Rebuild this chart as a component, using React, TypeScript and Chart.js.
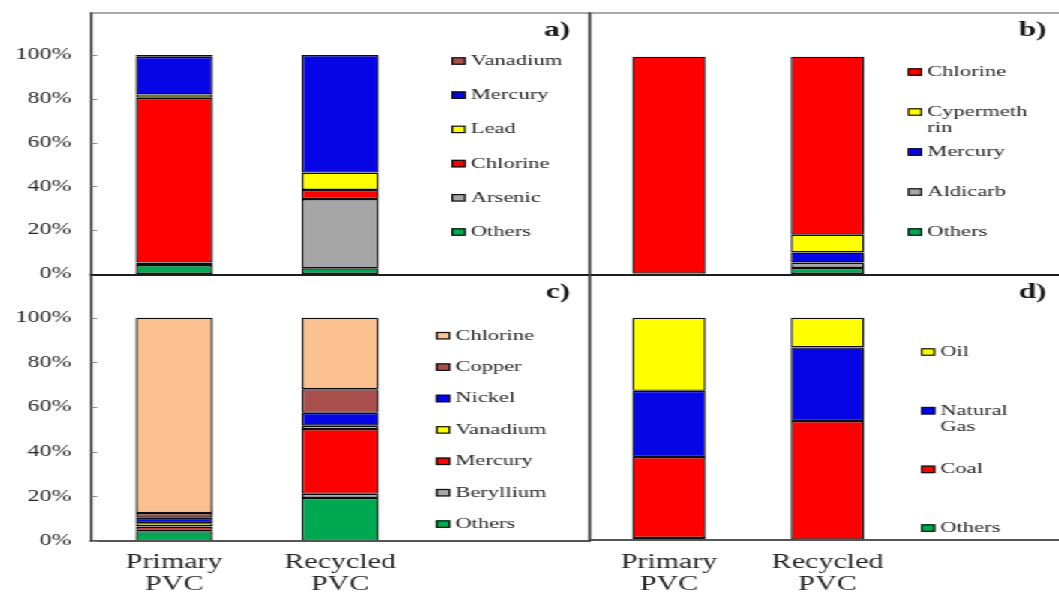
import { useEffect, useRef } from 'react';
import { Chart, registerables } from 'chart.js';

Chart.register(...registerables);

// ---- data -------------------------------------------------------------
const categories = [['Primary', 'PVC'], ['Recycled', 'PVC']];
const tickStep = 20;
const tickTop = 100;

// a) metals, part 1 (share of impact, %)
const aOthers = [4.1, 2.6];
const aArsenic = [1.1, 31.6];
const aChlorine = [75.3, 4.2];
const aLead = [1.5, 7.9];
const aMercury = [17.2, 53.7];
const aVanadium = [0.8, 0];

// b) pesticides and others
const bOthers = [0.2, 2.8];
const bAldicarb = [0, 2.5];
const bMercury = [0, 4.6];
const bCypermethrin = [0, 8.2];
const bChlorine = [99.8, 81.9];

// c) metals, part 2
const cOthers = [4.4, 19.3];
const cBeryllium = [0.6, 1.8];
const cMercury = [1.5, 29.0];
const cVanadium = [1.5, 1.5];
const cNickel = [2.4, 5.8];
const cCopper = [2.1, 10.6];
const cChlorine = [87.5, 32.0];

// d) energy carriers
const dOthers = [0.9, 0.2];
const dCoal = [36.4, 53.3];
const dNaturalGas = [29.8, 33.1];
const dOil = [32.9, 13.4];

// ---- styling ------------------------------------------------------------
const SERIF = '"Liberation Serif", "Times New Roman", serif';
const STRETCH = 1.5;
const GREEN = '#00a851';
const GRAY = '#a6a6a6';
const RED = '#ff0000';
const YELLOW = '#ffff00';
const BLUE = '#0505e6';
const BROWN = '#a9504e';
const PEACH = '#fac090';
const TEXT = '#262626';
const LINE = '#3a3a3a';

type Series = { label: string; data: number[]; color: string };

const panelA: Series[] = [
  { label: 'Others', data: aOthers, color: GREEN },
  { label: 'Arsenic', data: aArsenic, color: GRAY },
  { label: 'Chlorine', data: aChlorine, color: RED },
  { label: 'Lead', data: aLead, color: YELLOW },
  { label: 'Mercury', data: aMercury, color: BLUE },
  { label: 'Vanadium', data: aVanadium, color: BROWN },
];
const panelB: Series[] = [
  { label: 'Others', data: bOthers, color: GREEN },
  { label: 'Aldicarb', data: bAldicarb, color: GRAY },
  { label: 'Mercury', data: bMercury, color: BLUE },
  { label: 'Cypermethrin', data: bCypermethrin, color: YELLOW },
  { label: 'Chlorine', data: bChlorine, color: RED },
];
const panelC: Series[] = [
  { label: 'Others', data: cOthers, color: GREEN },
  { label: 'Beryllium', data: cBeryllium, color: GRAY },
  { label: 'Mercury', data: cMercury, color: RED },
  { label: 'Vanadium', data: cVanadium, color: YELLOW },
  { label: 'Nickel', data: cNickel, color: BLUE },
  { label: 'Copper', data: cCopper, color: BROWN },
  { label: 'Chlorine', data: cChlorine, color: PEACH },
];
const panelD: Series[] = [
  { label: 'Others', data: dOthers, color: GREEN },
  { label: 'Coal', data: dCoal, color: RED },
  { label: 'Natural Gas', data: dNaturalGas, color: BLUE },
  { label: 'Oil', data: dOil, color: YELLOW },
];

// ---- decoration plugin: frame, inner ticks, panel tag, legend ----------
function wrapLabel(ctx: CanvasRenderingContext2D, text: string, maxWidth: number) {
  const lines: string[] = [];
  let cur = '';
  for (const w of text.split(' ')) {
    const trial = cur ? cur + ' ' + w : w;
    if (ctx.measureText(trial).width <= maxWidth) {
      cur = trial;
      continue;
    }
    if (cur) {
      lines.push(cur);
      cur = '';
    }
    let piece = '';
    for (const ch of w) {
      if (piece && ctx.measureText(piece + ch).width > maxWidth) {
        lines.push(piece);
        piece = ch;
      } else piece += ch;
    }
    cur = piece;
  }
  if (cur) lines.push(cur);
  return lines;
}

const decorPlugin = {
  id: 'panelDecor',
  afterDraw(chart: any, _args: any, opts: any) {
    const { ctx, chartArea: ca } = chart;
    ctx.save();

    // frame sides
    const side = (x1: number, y1: number, x2: number, y2: number, color: string, w: number) => {
      ctx.strokeStyle = color;
      ctx.lineWidth = w;
      ctx.beginPath();
      ctx.moveTo(x1, y1);
      ctx.lineTo(x2, y2);
      ctx.stroke();
    };
    const f = opts.frame;
    if (f.top) side(ca.left - 1, ca.top, ca.right + 2, ca.top, f.top, f.topWidth);
    if (f.bottom) side(ca.left - 1, ca.bottom, ca.right + 2, ca.bottom, f.bottom, 2);
    if (f.left) side(ca.left, ca.top - 0.5, ca.left, ca.bottom + 1, f.left, f.leftWidth);

    // short tick marks inside the frame
    if (opts.innerTicks) {
      const y = chart.scales.y;
      ctx.strokeStyle = '#8a8a8a';
      ctx.lineWidth = 1;
      for (const t of y.ticks) {
        const py = Math.round(y.getPixelForValue(t.value)) + 0.5;
        ctx.beginPath();
        ctx.moveTo(ca.left, py);
        ctx.lineTo(ca.left + 4, py);
        ctx.stroke();
      }
    }

    // panel tag
    ctx.fillStyle = '#1a1a1a';
    ctx.font = `bold 21px ${SERIF}`;
    ctx.textAlign = 'right';
    ctx.textBaseline = 'middle';
    ctx.fillText(opts.tag, ca.right - 12.5, ca.top + 18);

    // legend, top item = last stacked series
    const lg = opts.legend;
    ctx.font = `15px ${SERIF}`;
    ctx.textAlign = 'left';
    const items = [...chart.data.datasets].reverse();
    items.forEach((ds: any, i: number) => {
      const cy = ca.top + lg.yStart + i * lg.step;
      const bx = ca.left + lg.x;
      ctx.fillStyle = ds.backgroundColor;
      ctx.fillRect(bx, cy - 3.8, 9.6, 7.6);
      ctx.strokeStyle = '#111';
      ctx.lineWidth = 1.2;
      ctx.strokeRect(bx + 0.6, cy - 3.2, 8.4, 6.4);
      ctx.fillStyle = TEXT;
      const lines = wrapLabel(ctx, ds.label, lg.maxWidth);
      lines.forEach((ln, j) => ctx.fillText(ln, bx + 13, cy + j * 16));
    });

    ctx.restore();
  },
};

// ---- panel description ---------------------------------------------------
type PanelSpec = {
  series: Series[];
  tag: string;
  box: { left: number; top: number; width: number; height: number };
  padding: { top: number; right: number; bottom: number; left: number };
  yMax: number;
  showY: boolean;
  showX: boolean;
  xHeight: number;
  xPad: number;
  frame: { top?: string; topWidth: number; bottom?: string; left?: string; leftWidth: number };
  legend: { x: number; yStart: number; step: number; maxWidth: number };
};

function buildConfig(p: PanelSpec): any {
  return {
    type: 'bar',
    data: {
      labels: [...categories, ''],
      datasets: p.series.map((s) => ({
        label: s.label,
        data: s.data,
        backgroundColor: s.color,
        borderColor: '#0d0d0d',
        borderWidth: 1.4,
        borderSkipped: false,
        barPercentage: 0.464,
        categoryPercentage: 1,
      })),
    },
    options: {
      animation: false,
      responsive: false,
      maintainAspectRatio: false,
      devicePixelRatio: 1,
      layout: { padding: p.padding },
      plugins: {
        legend: { display: false },
        tooltip: { enabled: false },
        panelDecor: { tag: p.tag, frame: p.frame, legend: p.legend, innerTicks: p.showY },
      },
      scales: {
        x: {
          stacked: true,
          display: p.showX,
          grid: { display: false, drawTicks: false },
          border: { display: false },
          ticks: {
            color: TEXT,
            padding: p.xPad,
            maxRotation: 0,
            autoSkip: false,
            font: { family: SERIF, size: 20, lineHeight: 1.1 },
          },
          afterFit: (s: any) => {
            if (p.showX) s.height = p.xHeight;
            s.paddingLeft = 0;
            s.paddingRight = 0;
          },
        },
        y: {
          stacked: true,
          min: 0,
          max: p.yMax,
          display: p.showY,
          grid: { display: false, drawTicks: false },
          border: { display: false },
          ticks: {
            stepSize: tickStep,
            color: TEXT,
            padding: 13,
            font: { family: SERIF, size: 16 },
            callback: (v: number) => `${v}%`,
          },
          afterBuildTicks: (s: any) => {
            s.ticks = s.ticks.filter((t: any) => t.value <= tickTop);
          },
          afterFit: (s: any) => {
            if (p.showY) s.width = 60.7;
            s.paddingTop = 0;
            s.paddingBottom = 0;
          },
        },
      },
    },
    plugins: [decorPlugin],
  };
}

const panels: PanelSpec[] = [
  {
    series: panelA,
    tag: 'a)',
    box: { left: 0, top: 0, width: 394, height: 280 },
    padding: { top: 13, right: 1.3, bottom: 6, left: 0 },
    yMax: 119.2,
    showY: true,
    showX: false,
    xHeight: 0,
    xPad: 0,
    frame: { top: '#8c8c8c', topWidth: 1.5, left: LINE, leftWidth: 1.6 },
    legend: { x: 240.3, yStart: 48, step: 34.2, maxWidth: 100 },
  },
  {
    series: panelB,
    tag: 'b)',
    box: { left: 390, top: 0, width: 322, height: 280 },
    padding: { top: 13, right: 1.7, bottom: 6, left: 3.3 },
    yMax: 120.1,
    showY: false,
    showX: false,
    xHeight: 0,
    xPad: 0,
    frame: { top: '#8c8c8c', topWidth: 1.5, left: '#4a4a4a', leftWidth: 2 },
    legend: { x: 212, yStart: 59, step: 40, maxWidth: 70 },
  },
  {
    series: panelC,
    tag: 'c)',
    box: { left: 0, top: 270, width: 394, height: 322 },
    padding: { top: 5, right: 1.3, bottom: 0, left: 0 },
    yMax: 119.1,
    showY: true,
    showX: true,
    xHeight: 51,
    xPad: 11,
    frame: { top: '#1e1e1e', topWidth: 2, bottom: '#555555', left: LINE, leftWidth: 1.6 },
    legend: { x: 230, yStart: 60.7, step: 31.4, maxWidth: 100 },
  },
  {
    series: panelD,
    tag: 'd)',
    box: { left: 390, top: 270, width: 322, height: 322 },
    padding: { top: 5, right: 1.7, bottom: 0, left: 3.3 },
    yMax: 119.2,
    showY: false,
    showX: true,
    xHeight: 52,
    xPad: 12,
    frame: { top: '#1e1e1e', topWidth: 2, bottom: '#555555', left: '#4a4a4a', leftWidth: 2 },
    legend: { x: 220.7, yStart: 77, step: 58.7, maxWidth: 60 },
  },
];

function Panel({ spec }: { spec: PanelSpec }) {
  const ref = useRef<HTMLCanvasElement>(null);
  useEffect(() => {
    const chart = new Chart(ref.current as HTMLCanvasElement, buildConfig(spec));
    return () => chart.destroy();
  }, [spec]);
  const b = spec.box;
  return (
    <canvas
      ref={ref}
      width={b.width}
      height={b.height}
      style={{ position: 'absolute', left: b.left, top: b.top, width: b.width, height: b.height }}
    />
  );
}

export default function App() {
  return (
    <div
      style={{
        position: 'fixed',
        left: 0,
        top: 0,
        width: 1059,
        height: 592,
        overflow: 'hidden',
        background: '#ffffff',
      }}
    >
      <div
        style={{
          position: 'absolute',
          left: 0,
          top: 0,
          width: 1059 / STRETCH,
          height: 592,
          transform: `scaleX(${STRETCH})`,
          transformOrigin: '0 0',
        }}
      >
        {panels.map((p) => (
          <Panel key={p.tag} spec={p} />
        ))}
      </div>
    </div>
  );
}
